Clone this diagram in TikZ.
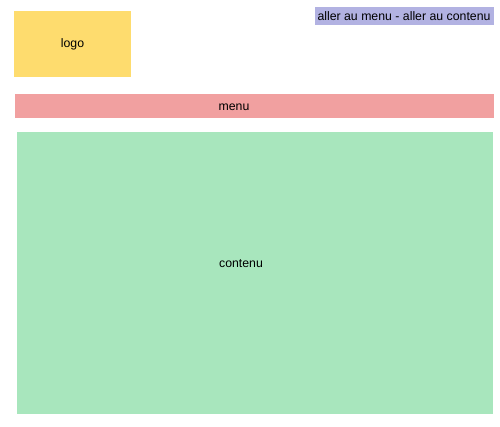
\documentclass[tikz,border=0pt]{standalone}
\usepackage{fontspec}
\setmainfont{Liberation Sans}
\definecolor{logoc}{HTML}{FEDC6E}
\definecolor{menuc}{HTML}{F1A0A0}
\definecolor{contc}{HTML}{A8E6BD}
\definecolor{skipc}{HTML}{B2B2E2}
\tikzset{
  area/.style={inner sep=0pt, outer sep=0pt, draw=none, anchor=north west},
  lbl/.style={inner sep=0pt, font=\fontsize{12.3}{14}\selectfont, text=black}
}
\begin{document}
\begin{tikzpicture}[x=1pt,y=-1pt]
\useasboundingbox (0,0) rectangle (500,426);
\node[area, fill=logoc, minimum width=117pt, minimum height=66pt] (logo) at (14,11) {};
\node[area, fill=skipc, minimum width=179pt, minimum height=18pt] (skip) at (315,7) {};
\node[area, fill=menuc, minimum width=479pt, minimum height=24pt] (menu) at (15,94) {};
\node[area, fill=contc, minimum width=476pt, minimum height=282pt] (contenu) at (17,132) {};
\node[lbl] (tlogo) at (72.5,44.5) {logo};
\node[lbl] (tskip) at (404,16) {aller au menu - aller au contenu};
\node[lbl] (tmenu) at (234,107) {menu};
\node[lbl] (tcont) at (241,264) {contenu};
\end{tikzpicture}
\end{document}
